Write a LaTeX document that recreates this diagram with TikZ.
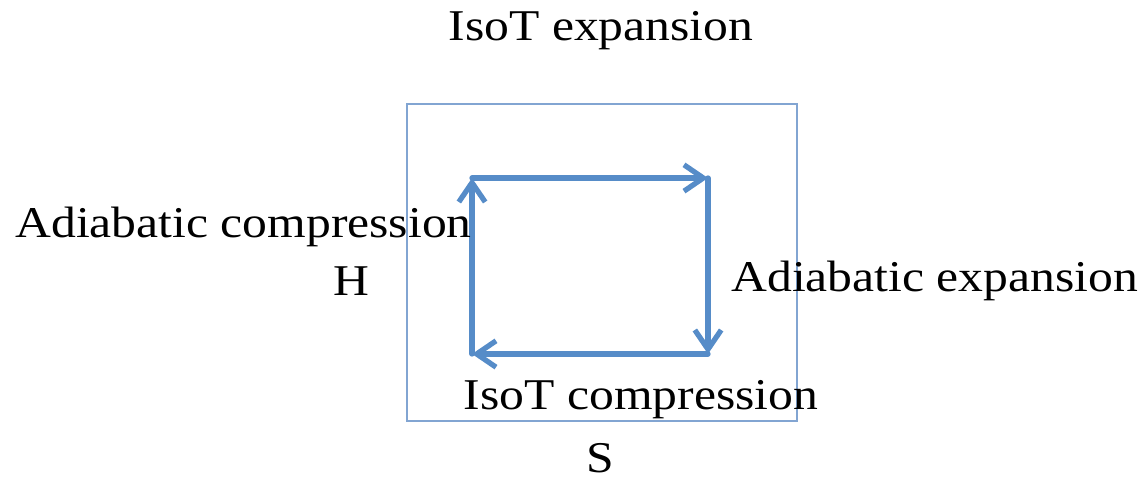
\documentclass[tikz,border=0pt]{standalone}
\usepackage{fontspec}
\setmainfont{Liberation Serif}
\usetikzlibrary{arrows.meta,positioning}
\definecolor{cyclblue}{RGB}{86,140,200}
\definecolor{boxblue}{RGB}{130,165,210}
\tikzset{
    lbl/.style={font=\fontsize{25}{30}\selectfont, inner sep=0pt, xscale=1.13},
    leg/.style={cyclblue, line width=3pt, line cap=round, -{Straight Barb[length=11pt,width=15pt,line width=3pt]}}
}

\begin{document}
\begin{tikzpicture}[x=0.02cm, y=-0.02cm]
    \useasboundingbox (0,0) rectangle (1144,482);
    \draw[boxblue, line width=0.8pt] (407,104) rectangle (797,421);
    % corners of the cycle
    \coordinate (tl) at (472,178); \coordinate (tr) at (708,178);
    \coordinate (br) at (708,354); \coordinate (bl) at (472,354);
    \draw[leg] (bl) -- (tl); \draw[leg] (tl) -- (tr);
    \draw[leg] (tr) -- (br); \draw[leg] (br) -- (bl);
    \node[lbl] (isoexp) at (601,31) {IsoT expansion};
    \node[lbl, anchor=east] (adicomp) at (472,227) {Adiabatic compression};
    \node[lbl] (hlab) at (351,281) {H};
    \node[lbl, anchor=west] (adiexp) at (731,281) {Adiabatic expansion};
    \node[lbl] (isocomp) at (641,400) {IsoT compression};
    \node[lbl] (slab) at (600,458) {S};
\end{tikzpicture}
\end{document}
